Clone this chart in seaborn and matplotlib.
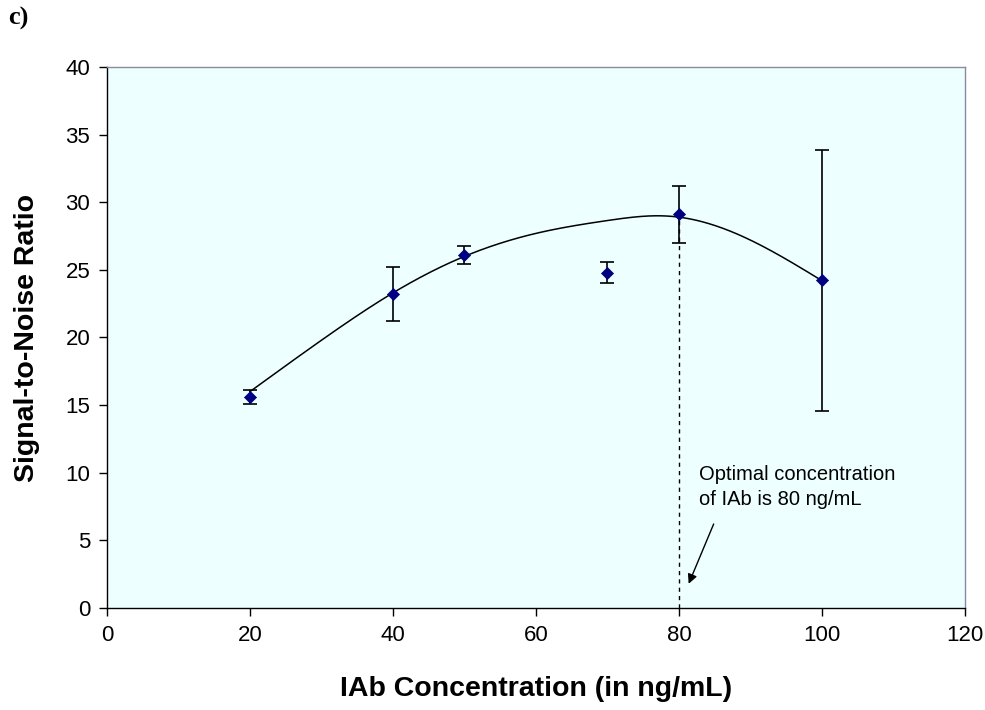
import numpy as np
import pandas as pd
import matplotlib
matplotlib.use("Agg")
import matplotlib.pyplot as plt
import seaborn as sns

# Data
conc = [20, 40, 50, 70, 80, 100]
snr = [15.6, 23.2, 26.1, 24.8, 29.1, 24.25]
err = [0.5, 2.0, 0.65, 0.75, 2.1, 9.65]

# Trend curve knots
curve_x = [20, 30, 40, 50, 60, 70, 77, 80, 90, 100]
curve_y = [16.0, 19.8, 23.3, 26.0, 27.7, 28.65, 29.0, 28.9, 27.2, 24.2]

x_ticks = [0, 20, 40, 60, 80, 100, 120]
y_ticks = [0, 5, 10, 15, 20, 25, 30, 35, 40]

sns.set_theme(style="white")
plt.rcParams['font.family'] = ['Liberation Sans', 'DejaVu Sans']
plt.rcParams['text.color'] = 'black'
plt.rcParams['axes.labelcolor'] = 'black'
plt.rcParams['xtick.color'] = 'black'
plt.rcParams['ytick.color'] = 'black'


def natural_spline(xs, ys, n=400):
    xs = np.asarray(xs, float); ys = np.asarray(ys, float)
    k = len(xs)
    h = np.diff(xs)
    A = np.zeros((k, k)); b = np.zeros(k)
    A[0, 0] = 1; A[-1, -1] = 1
    for i in range(1, k - 1):
        A[i, i - 1] = h[i - 1]
        A[i, i] = 2 * (h[i - 1] + h[i])
        A[i, i + 1] = h[i]
        b[i] = 6 * ((ys[i + 1] - ys[i]) / h[i] - (ys[i] - ys[i - 1]) / h[i - 1])
    M = np.linalg.solve(A, b)
    xx = np.linspace(xs[0], xs[-1], n)
    idx = np.clip(np.searchsorted(xs, xx) - 1, 0, k - 2)
    x0, x1 = xs[idx], xs[idx + 1]
    hh = x1 - x0
    t0 = x1 - xx; t1 = xx - x0
    yy = (M[idx] * t0**3 + M[idx + 1] * t1**3) / (6 * hh) \
        + (ys[idx] / hh - M[idx] * hh / 6) * t0 + (ys[idx + 1] / hh - M[idx + 1] * hh / 6) * t1
    return xx, yy


cx, cy = natural_spline(curve_x, curve_y)
curve_df = pd.DataFrame({"x": cx, "y": cy})
pts = pd.DataFrame({"conc": conc, "snr": snr, "err": err})

fig = plt.figure(figsize=(9.85, 7.1), dpi=100)
ax = fig.add_axes([0.1086, 0.1437, 0.8711, 0.7619])
ax.set_facecolor("#EEFFFF")

# dashed optimal line
ax.plot([80, 80], [0, 29.0], color="black", linestyle=(0, (3, 3)), linewidth=1.0, zorder=2)

sns.lineplot(data=curve_df, x="x", y="y", ax=ax, color="black", linewidth=1.1, sort=False, zorder=3)
ax.errorbar(pts["conc"], pts["snr"], yerr=pts["err"], fmt="none", ecolor="black",
            elinewidth=1.2, capsize=5, capthick=1.2, zorder=4)
sns.scatterplot(data=pts, x="conc", y="snr", ax=ax, marker="D", s=38, color="#000080",
                edgecolor="#000080", linewidth=0.5, zorder=5)

ax.set_xlim(0, 120)
ax.set_ylim(0, 40)
ax.set_xticks(x_ticks)
ax.set_yticks(y_ticks)
ax.tick_params(axis="both", direction="out", length=6, width=1, labelsize=16, color="black",
               labelcolor="black", bottom=True, left=True, pad=6)
for side in ("left", "bottom"):
    ax.spines[side].set_color("black")
    ax.spines[side].set_linewidth(1.0)
for side in ("top", "right"):
    ax.spines[side].set_visible(True)
    ax.spines[side].set_color("#8a8aa0")
    ax.spines[side].set_linewidth(1.0)

ax.set_xlabel("IAb Concentration (in ng/mL)", fontsize=20.5, fontweight="bold", labelpad=22)
ax.set_ylabel("Signal-to-Noise Ratio", fontsize=20.5, fontweight="bold", labelpad=18)

ax.text(82.8, 10.6, "Optimal concentration\nof IAb is 80 ng/mL", fontsize=14.5, va="top", ha="left",
        linespacing=1.45)
ax.annotate("", xy=(81.2, 1.6), xytext=(85.0, 6.4),
            arrowprops=dict(arrowstyle="-|>", color="black", lw=1.0, mutation_scale=14))

fig.text(0.008, 0.99, "c)", fontsize=19, fontweight="bold", family=["Liberation Serif", "DejaVu Serif"],
         va="top", ha="left")

fig.savefig("out.png", dpi=100)
